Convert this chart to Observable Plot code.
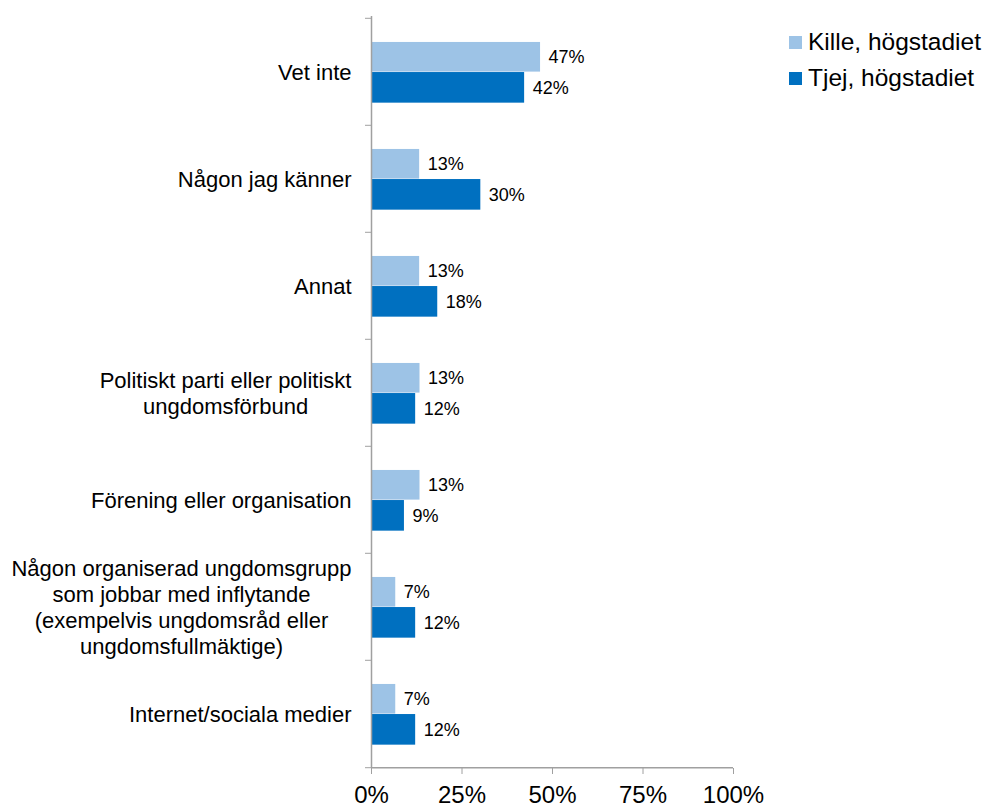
<!DOCTYPE html>
<html>
<head>
<meta charset="utf-8">
<script src="https://cdn.jsdelivr.net/npm/d3@7"></script>
<script src="https://cdn.jsdelivr.net/npm/@observablehq/plot@0.6"></script>
<style>
  html, body { margin: 0; padding: 0; background: #fff; }
  #wrap { position: relative; width: 987px; height: 810px; font-family: "Liberation Sans", Arial, sans-serif; }
  #legend { position: absolute; left: 789px; top: 24px; font-size: 24.5px; color: #000; }
  .item { display: flex; align-items: center; height: 36px; }
  .sw { width: 13px; height: 13px; margin-right: 6px; flex: none; }
</style>
</head>
<body>
<div id="wrap"><div id="legend"></div></div>
<script>
const categories = [
  "Vet inte",
  "Någon jag känner",
  "Annat",
  "Politiskt parti eller politiskt\nungdomsförbund",
  "Förening eller organisation",
  "Någon organiserad ungdomsgrupp\nsom jobbar med inflytande\n(exempelvis ungdomsråd eller\nungdomsfullmäktige)",
  "Internet/sociala medier"
];
const seriesNames = ["Kille, högstadiet", "Tjej, högstadiet"];
const kille = [46.7, 13.3, 13.3, 13.4, 13.4, 6.7, 6.7];
const tjej = [42.3, 30.2, 18.3, 12.2, 9.1, 12.2, 12.2];
const killeLabels = ["47%", "13%", "13%", "13%", "13%", "7%", "7%"];
const tjejLabels = ["42%", "30%", "18%", "12%", "9%", "12%", "12%"];
const xTicks = [0, 25, 50, 75, 100];
const colors = ["#9DC3E6", "#0070C0"];

const killeData = categories.map((c, i) => ({cat: c, value: kille[i], label: killeLabels[i]}));
const tjejData = categories.map((c, i) => ({cat: c, value: tjej[i], label: tjejLabels[i]}));

const W = 987, H = 810;
const mL = 371, mR = 254, mT = 16, mB = 42;
const step = (H - mT - mB) / categories.length;
const half = step / 2;
const axisGray = "#a0a0a0";

const chart = Plot.plot({
  width: W,
  height: H,
  marginLeft: mL,
  marginRight: mR,
  marginTop: mT,
  marginBottom: mB,
  style: {fontFamily: "Liberation Sans, Arial, sans-serif", fontSize: "22px", color: "#000", background: "#fff"},
  x: {domain: [0, 100]},
  y: {domain: categories, padding: 0},
  marks: [
    Plot.barX(killeData, {x: "value", y: "cat", fill: colors[0], insetTop: step * 0.223, insetBottom: step * 0.497}),
    Plot.barX(tjejData, {x: "value", y: "cat", fill: colors[1], insetTop: step * 0.503, insetBottom: step * 0.208}),
    Plot.text(killeData, {x: "value", y: "cat", text: "label", dx: 8, dy: -step * 0.14, textAnchor: "start", fontSize: 18, fill: "#000"}),
    Plot.text(tjejData, {x: "value", y: "cat", text: "label", dx: 8, dy: step * 0.147, textAnchor: "start", fontSize: 18, fill: "#000"}),
    Plot.ruleX([0], {stroke: axisGray, strokeWidth: 1.5}),
    Plot.tickY([categories[categories.length - 1]], {y: d => d, dy: half, stroke: axisGray, strokeWidth: 1.5}),
    Plot.axisY({tickSize: 0, tickPadding: 20, fontSize: 22, lineHeight: 1.18, label: null}),
    Plot.axisY({tickSize: 6, text: null, dy: -half, stroke: axisGray, label: null}),
    Plot.axisY([categories[categories.length - 1]], {tickSize: 6, text: null, dy: half, stroke: axisGray, label: null}),
    Plot.axisX({ticks: xTicks, tickFormat: d => d + "%", tickSize: 6, tickPadding: 11, fontSize: 24, stroke: axisGray, label: null})
  ]
});

document.getElementById("wrap").appendChild(chart);
chart.style.position = "absolute";
chart.style.left = "0px";
chart.style.top = "0px";

// center the lines of multi-line category labels among themselves
chart.querySelectorAll("g[aria-label='y-axis tick label'] text").forEach(t => {
  const spans = t.querySelectorAll("tspan");
  if (spans.length > 1) {
    let maxW = 0;
    spans.forEach(s => { maxW = Math.max(maxW, s.getComputedTextLength()); });
    t.setAttribute("text-anchor", "middle");
    spans.forEach(s => s.setAttribute("x", -maxW / 2));
  }
});

const legend = document.getElementById("legend");
seriesNames.forEach((name, i) => {
  const item = document.createElement("div");
  item.className = "item";
  const sw = document.createElement("span");
  sw.className = "sw";
  sw.style.background = colors[i];
  const tx = document.createElement("span");
  tx.textContent = name;
  item.appendChild(sw);
  item.appendChild(tx);
  legend.appendChild(item);
});
document.getElementById("wrap").appendChild(legend);
</script>
</body>
</html>
